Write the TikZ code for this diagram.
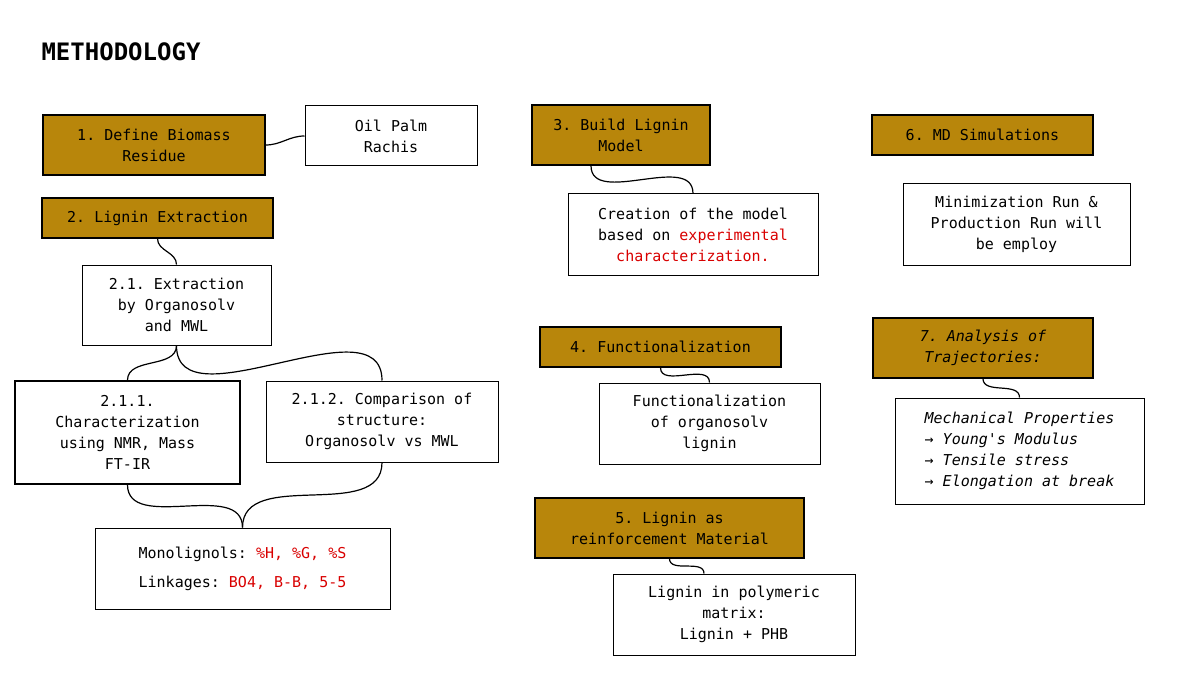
\documentclass[tikz,border=0pt]{standalone}
\usepackage{fontspec}
\setmonofont{DejaVu Sans Mono}
\renewcommand{\familydefault}{\ttdefault}
\begin{document}
\begin{tikzpicture}[x=1pt,y=-1pt,
  every node/.style={font=\fontsize{15}{21}\selectfont},
  gold/.style={draw=black,line width=1.3pt,fill={rgb,255:red,184;green,134;blue,11},align=center,inner sep=0pt},
  wht/.style={draw=black,line width=1pt,fill=white,align=center,inner sep=0pt},
  con/.style={line width=1.2pt}]
\useasboundingbox (0,0) rectangle (1200,674);
\node[anchor=west,font=\fontsize{24}{28}\selectfont\bfseries] (t) at (38,52) {METHODOLOGY};
\newcommand\bx[6]{\node[#1,minimum width=#4-#2,minimum height=#5-#3] (#6) at ({(#2+#4)/2},{(#3+#5)/2})}
\bx{gold}{43}{115}{265}{175}{b1}{1.  Define Biomass\\Residue};
\bx{wht}{305}{106}{477}{166}{op}{Oil Palm\\Rachis};
\bx{gold}{42}{198}{273}{238}{b2}{2. Lignin Extraction};
\bx{wht}{82}{265}{271}{345}{e1}{2.1. Extraction\\by  Organosolv\\and MWL};
\bx{wht,line width=1.5pt}{15}{381}{240}{484}{e11}{2.1.1.\\Characterization\\using NMR, Mass\\FT-IR};
\bx{wht}{266}{381}{498}{462}{e12}{2.1.2. Comparison of\\structure:\\Organosolv vs MWL};
\bx{wht}{95}{528}{390}{609}{mono}{Monolignols: \textcolor{red!85!black}{\%H, \%G, \%S}\\[8pt]Linkages: \textcolor{red!85!black}{BO4, B-B, 5-5}};
\bx{gold}{532}{105}{710}{165}{b3}{3. Build Lignin\\Model};
\bx{wht}{568}{194}{818}{275}{cr}{Creation of the model\\based on \textcolor{red!85!black}{experimental}\\\textcolor{red!85!black}{characterization.}};
\bx{gold}{540}{327}{781}{367}{b4}{4. Functionalization};
\bx{wht}{599}{383}{820}{464}{fu}{Functionalization\\of organosolv\\lignin};
\bx{gold}{535}{498}{804}{558}{b5}{5. Lignin as\\reinforcement Material};
\bx{wht}{613}{574}{855}{655}{pm}{Lignin in polymeric\\matrix:\\Lignin + PHB};
\bx{gold}{872}{115}{1093}{155}{b6}{6. MD Simulations};
\bx{wht}{903}{184}{1130}{265}{mi}{Minimization Run \&\\Production Run will\\be employ};
\bx{gold}{873}{318}{1093}{378}{b7}{\itshape 7. Analysis of\\\itshape Trajectories:};
\bx{wht,align=left}{895}{398}{1144}{504}{me}{\itshape Mechanical Properties\\\itshape → Young's Modulus\\\itshape → Tensile stress\\\itshape → Elongation at break};
\draw[con] (b1.east) to[out=0,in=180] (op.west);
\draw[con] (b2.south) to[out=-90,in=90] (e1.north);
\draw[con] (e1.south) to[out=-90,in=90] (e11.north);
\draw[con] (e1.south) to[out=-90,in=90] (e12.north);
\draw[con] (e11.south) to[out=-90,in=90] (mono.north);
\draw[con] (e12.south) to[out=-90,in=90] (mono.north);
\draw[con] ([xshift=-30pt]b3.south) to[out=-90,in=90] (cr.north);
\draw[con] (b4.south) to[out=-90,in=90] (fu.north);
\draw[con] (b5.south) to[out=-90,in=90] ([xshift=-30pt]pm.north);
\draw[con] (b7.south) to[out=-90,in=90] (me.north);
\end{tikzpicture}
\end{document}
